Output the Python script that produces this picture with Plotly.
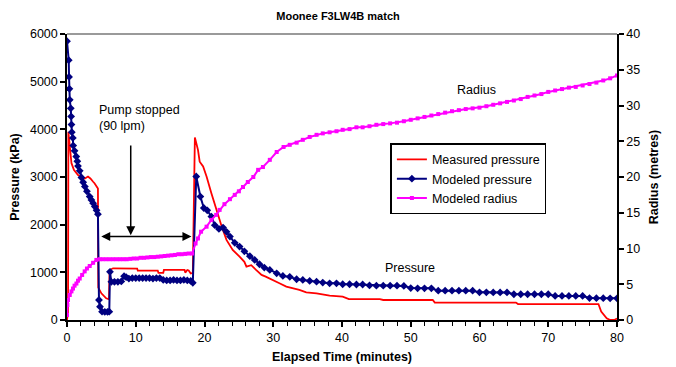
import plotly.graph_objects as go

# ---- data ----
meas_t = [0, 0.15, 0.2, 0.4, 0.65, 1.0, 1.6, 2.2, 2.6, 3.05, 3.4, 3.8, 4.0, 4.5, 4.55, 5.0, 5.7, 6.1,
          6.2, 6.7, 10.2, 10.3, 13.2, 13.3, 14.0, 14.1, 17.1, 17.2, 17.5, 17.7, 18.0, 18.3,
          18.6, 19.05, 19.3, 19.8, 20.3, 21.0, 21.7, 22.5, 23.2, 24.1, 25.1, 25.8, 26.1, 26.8,
          27.5, 28.0, 28.3, 28.9, 30.0, 30.9, 31.9, 32.9, 33.8, 34.8, 36.3, 38.2, 40.1, 41.0,
          45.5, 46.0, 53.2, 53.5, 65.3, 65.6, 77.3, 77.7, 78.5, 79.0, 79.6, 80.0]
meas_p = [0, 170, 3950, 3640, 3290, 3150, 3040, 2990, 2970, 3010, 2970, 2900, 2870, 2760, 680, 560, 455, 435,
          1050, 1085, 1080, 1035, 1035, 990, 990, 1050, 1050, 995, 1050, 1040, 975, 990,
          3830, 3570, 3320, 3220, 3010, 2660, 2310, 1960, 1680, 1470, 1330, 1220, 1120, 1150,
          1050, 980, 945, 910, 840, 770, 700, 665, 630, 580, 560, 510, 490, 440,
          440, 420, 420, 365, 365, 335, 335, 175, 35, 0, 0, 30]

mod_t = [0, 0.25, 0.3, 0.35, 0.4, 0.55, 0.6, 0.65, 0.7, 0.85, 0.9, 1.1, 1.35, 1.5, 1.6, 1.85, 2.1, 2.35,
         2.6, 2.9, 3.3, 3.55, 3.8, 4.05, 4.3, 4.5, 4.65, 4.8, 5.1, 5.5, 5.9, 6.15, 6.25, 6.45,
         6.9, 7.4, 7.9, 8.3, 8.6, 9.0, 9.5, 10.0, 10.5, 11.0, 11.5, 12.0, 12.5, 13.0, 13.5,
         14.0, 14.5, 15.0, 15.5, 16.0, 16.5, 17.0, 17.5, 18.0, 18.3, 18.8, 19.4, 19.9, 20.4,
         21.0, 21.5, 22.1, 22.7, 23.2, 23.7, 24.4, 25.1, 25.8, 26.6, 27.3, 28.0, 28.7, 29.5,
         30.5, 31.4, 32.4, 33.4, 34.3, 35.3, 36.3, 37.2, 38.2, 39.2, 40.1, 41.1, 42.1, 43.0,
         44.0, 45.0, 46.0, 47.0, 48.0, 49.0, 50.0, 51.0, 52.0, 53.0, 54.0, 55.0, 56.0, 57.0,
         58.0, 59.0, 60.0, 61.0, 62.0, 63.0, 64.0, 65.0, 66.0, 67.0, 68.0, 69.0, 70.0, 71.0,
         72.0, 73.0, 74.0, 75.0, 76.0, 77.0, 78.0, 79.0, 80.0]
mod_p = [5850, 5450, 5100, 4850, 4620, 4440, 4270, 4100, 3940, 3820, 3660, 3550, 3430, 3330, 3230, 3130, 2990, 2890,
         2800, 2700, 2590, 2520, 2450, 2380, 2300, 2220, 420, 280, 175, 170, 170, 175, 1010, 800,
         800, 800, 810, 920, 900, 870, 880, 880, 880, 880, 880, 880, 870, 880, 880,
         840, 830, 830, 840, 830, 830, 840, 830, 820, 780, 3010, 2590, 2350, 2300,
         2170, 1990, 1910, 1940, 1850, 1750, 1620, 1540, 1440, 1340, 1260, 1170, 1100, 1050,
         980, 925, 905, 855, 840, 820, 805, 785, 770, 770, 750, 750, 745, 745,
         725, 720, 720, 720, 720, 715, 670, 665, 665, 665, 615, 615, 615, 615,
         615, 615, 580, 580, 578, 578, 578, 540, 540, 540, 540, 540, 540, 505,
         505, 505, 505, 505, 460, 458, 458, 455, 455]

rad_t = [0, 0.05, 0.15, 0.4, 0.65, 0.87, 1.1, 1.37, 1.6, 1.85, 2.2, 2.57, 2.9, 3.3, 3.8, 4.27, 4.75,
         5.2, 5.7, 6.2, 6.7, 7.2, 7.7, 8.2, 8.7, 9.2, 9.7, 10.2, 10.7, 11.2, 11.7, 12.2, 12.7,
         13.2, 13.7, 14.2, 14.7, 15.2, 15.7, 16.2, 16.7, 17.2, 17.7, 18.2, 18.7, 19.05, 19.5,
         20.3, 21.0, 21.7, 22.2, 22.9, 23.7, 24.4, 25.0, 25.6, 26.3, 27.1, 27.8, 28.5, 29.5,
         30.5, 31.5, 32.4, 33.4, 34.3, 35.3, 36.3, 37.2, 38.2, 39.2, 40.1, 41.1, 42.1, 43.0,
         44.0, 45.0, 46.0, 47.0, 48.0, 49.0, 50.0, 51.0, 52.0, 53.0, 54.0, 55.0, 56.0, 57.0,
         58.0, 59.0, 60.0, 61.0, 62.0, 63.0, 64.0, 65.0, 66.0, 67.0, 68.0, 69.0, 70.0, 71.0,
         72.0, 73.0, 74.0, 75.0, 76.0, 77.0, 78.0, 79.0, 80.0]
rad_r = [0.7, 2.1, 2.8, 3.5, 4.0, 4.4, 4.8, 5.1, 5.5, 5.8, 6.3, 6.8, 7.2, 7.55, 8.0, 8.4, 8.5,
         8.5, 8.5, 8.5, 8.5, 8.5, 8.5, 8.5, 8.5, 8.55, 8.6, 8.6, 8.7, 8.7, 8.75, 8.8, 8.8,
         8.85, 8.9, 8.95, 9.0, 9.05, 9.1, 9.2, 9.2, 9.25, 9.3, 9.3, 10.7, 11.4, 12.35,
         13.05, 14.0, 14.7, 15.4, 16.2, 16.9, 17.5, 18.0, 18.6, 19.3, 20.0, 21.0, 21.4, 22.4,
         23.5, 24.2, 24.5, 24.8, 25.2, 25.6, 25.9, 26.1, 26.25, 26.4, 26.6, 26.7, 26.95, 26.95,
         27.1, 27.3, 27.4, 27.5, 27.6, 27.8, 28.0, 28.2, 28.4, 28.6, 28.8, 29.0, 29.2, 29.35,
         29.5, 29.6, 29.7, 29.9, 30.1, 30.3, 30.5, 30.7, 30.9, 31.2, 31.4, 31.6, 31.9, 32.1,
         32.3, 32.5, 32.6, 32.8, 33.0, 33.2, 33.5, 33.8, 34.2]

x_ticks = [0, 10, 20, 30, 40, 50, 60, 70, 80]
p_ticks = [0, 1000, 2000, 3000, 4000, 5000, 6000]
r_ticks = [0, 5, 10, 15, 20, 25, 30, 35, 40]

FONT = "Arial, 'Liberation Sans', sans-serif"

fig = go.Figure()
fig.add_trace(go.Scatter(x=meas_t, y=meas_p, name="Measured pressure", mode="lines",
                         line=dict(color="#FF0000", width=1.8)))
fig.add_trace(go.Scatter(x=mod_t, y=mod_p, name="Modeled pressure", mode="lines+markers",
                         line=dict(color="#000080", width=2),
                         marker=dict(symbol="diamond", size=6, color="#000080")))
fig.add_trace(go.Scatter(x=rad_t, y=rad_r, name="Modeled radius", mode="lines+markers",
                         yaxis="y2", line=dict(color="#FF00FF", width=2),
                         marker=dict(symbol="square", size=4, color="#FF00FF")))

axis_common = dict(showgrid=False, zeroline=False, showline=True, linecolor="black", linewidth=1.5,
                   ticks="outside", ticklen=5, tickcolor="black", tickwidth=1.5, automargin=False,
                   tickfont=dict(family=FONT, size=12.5, color="black"))

fig.update_layout(
    width=676, height=367,
    margin=dict(l=67, r=59, t=34, b=47),
    paper_bgcolor="white", plot_bgcolor="white",
    font=dict(family=FONT, size=12, color="black"),
    title=dict(text="<b>Moonee F3LW4B match</b>", x=0.5, xanchor="center", y=0.956, yanchor="middle",
               font=dict(family=FONT, size=11, color="black")),
    xaxis=dict(range=[0, 80], tickvals=x_ticks, **axis_common,
               minor=dict(dtick=2, ticks="outside", ticklen=4, tickcolor="black", tickwidth=1),
               title=dict(text="<b>Elapsed Time (minutes)</b>", font=dict(family=FONT, size=12.5), standoff=8)),
    yaxis=dict(range=[0, 6000], tickvals=p_ticks, **axis_common,
               title=dict(text="<b>Pressure (kPa)</b>", font=dict(family=FONT, size=12.5), standoff=8)),
    yaxis2=dict(range=[0, 40], tickvals=r_ticks, overlaying="y", side="right", **axis_common,
                title=dict(text="<b>Radius (metres)</b>", font=dict(family=FONT, size=12.5), standoff=10)),
    legend=dict(x=0.588, y=0.618, xanchor="left", yanchor="top", bgcolor="white",
                bordercolor="black", borderwidth=1.5, font=dict(family=FONT, size=12.5),
                tracegroupgap=0, itemwidth=30),
    showlegend=True,
)

# top border (grey)
fig.add_shape(type="line", xref="paper", yref="paper", x0=0, x1=1, y0=1, y1=1,
              line=dict(color="#9a9a9a", width=2))

# annotations
fig.add_annotation(x=4.3, y=4237, xref="x", yref="y", text="Pump stopped<br>(90 lpm)",
                   showarrow=False, xanchor="left", yanchor="middle", align="left",
                   font=dict(family=FONT, size=12.5, color="black"))
fig.add_annotation(x=9.27, y=1780, ax=9.27, ay=3692, xref="x", yref="y", axref="x", ayref="y",
                   text="", showarrow=True, arrowhead=2, arrowsize=1.2, arrowwidth=1.5, arrowcolor="black")
fig.add_annotation(x=18.1, y=1752, ax=4.76, ay=1752, xref="x", yref="y", axref="x", ayref="y",
                   text="", showarrow=True, arrowhead=2, arrowside="end+start", arrowsize=1.2,
                   arrowwidth=1.5, arrowcolor="black")
fig.add_annotation(x=59.6, y=4825, xref="x", yref="y", text="Radius", showarrow=False,
                   font=dict(family=FONT, size=12.5, color="black"))
fig.add_annotation(x=49.9, y=1091, xref="x", yref="y", text="Pressure", showarrow=False,
                   font=dict(family=FONT, size=12.5, color="black"))

fig.write_html("out.html")
